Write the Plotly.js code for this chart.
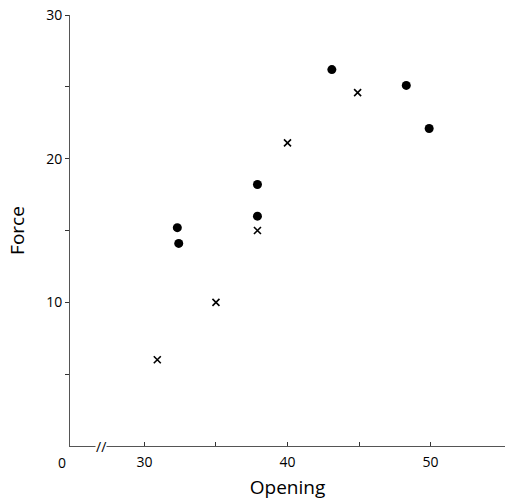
<!DOCTYPE html>
<html><head><meta charset="utf-8">
<script src="https://cdn.plot.ly/plotly-3.0.1.min.js"></script>
<style>body{margin:0;background:#fff}#c{width:510px;height:501px}</style>
</head><body><div id="c"></div>
<script>
const dotOpening = [32.3, 32.4, 37.9, 37.9, 43.1, 48.3, 49.9];
const dotForce   = [15.2, 14.1, 18.2, 16.0, 26.2, 25.1, 22.1];
const crossOpening = [30.9, 35.0, 37.9, 40.0, 44.9];
const crossForce   = [6.0, 10.0, 15.0, 21.1, 24.6];
const xTickVals = [30, 35, 40, 45, 50];
const xTickText = ['30', '', '40', '', '50'];
const yTickVals = [5, 10, 15, 20, 25, 30];
const yTickText = ['', '10', '', '20', '', '30'];

const font = {family: 'Open Sans, DejaVu Sans, sans-serif', color: '#000'};
const traces = [
  {x: dotOpening, y: dotForce, type: 'scatter', mode: 'markers',
   marker: {symbol: 'circle', size: 9, color: '#000'}, cliponaxis: false},
  {x: crossOpening, y: crossForce, type: 'scatter', mode: 'markers',
   marker: {symbol: 'x-thin-open', size: 7, color: '#000', line: {width: 1.6, color: '#000'}}, cliponaxis: false}
];
const layout = {
  width: 510, height: 501, showlegend: false,
  paper_bgcolor: '#fff', plot_bgcolor: '#fff',
  margin: {l: 70, r: 5, t: 15, b: 55},
  xaxis: {range: [24.8, 55.2], tickvals: xTickVals, ticktext: xTickText,
    ticks: 'inside', ticklen: 4, tickcolor: '#333', showgrid: false, zeroline: false,
    showline: true, linecolor: '#555', linewidth: 1, ticklabelstandoff: 3,
    tickfont: {...font, size: 14},
    title: {text: 'Opening', font: {...font, size: 19}, standoff: 10}},
  yaxis: {range: [0, 30], tickvals: yTickVals, ticktext: yTickText,
    ticks: 'outside', ticklen: 4, tickcolor: '#333', showgrid: false, zeroline: false,
    showline: true, linecolor: '#555', linewidth: 1,
    tickfont: {...font, size: 14},
    title: {text: 'Force', font: {...font, size: 19}, standoff: 16}},
  annotations: [
    {x: -0.018, y: 0, xref: 'paper', yref: 'paper', xanchor: 'center', yanchor: 'middle',
     text: '0', showarrow: false, yshift: -16, font: {...font, size: 14}},
    {x: 27.0, y: 0, xref: 'x', yref: 'y', text: '//', showarrow: false,
     font: {...font, size: 14}, bgcolor: '#fff', borderpad: 0}
  ]
};
Plotly.newPlot('c', traces, layout, {displayModeBar: false, staticPlot: true});
</script></body></html>
